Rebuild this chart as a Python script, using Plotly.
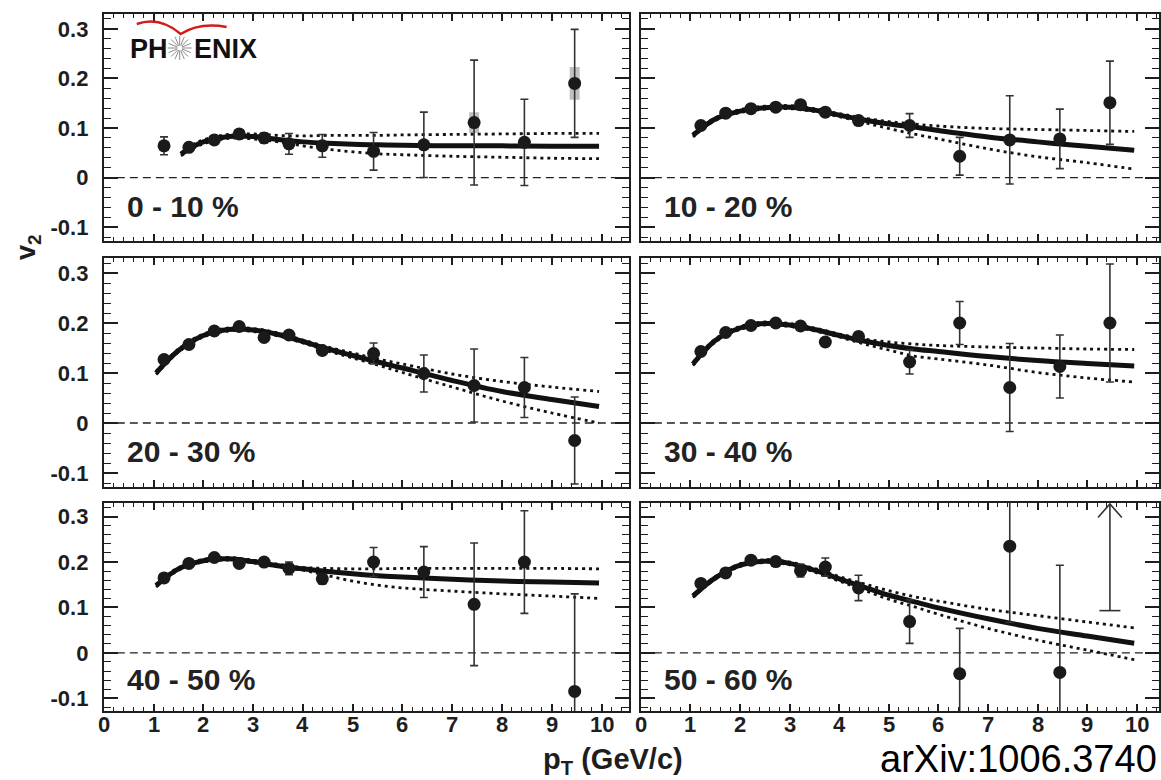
import math
import plotly.graph_objects as go

# ---------------- data ----------------
pt = [1.21, 1.71, 2.22, 2.72, 3.22, 3.72, 4.39, 5.42, 6.43, 7.44, 8.45, 9.46]

cent_labels = ["0 - 10 %", "10 - 20 %", "20 - 30 %", "30 - 40 %", "40 - 50 %", "50 - 60 %"]

v2_00_10 = [0.064, 0.061, 0.076, 0.088, 0.080, 0.068, 0.064, 0.053, 0.066, 0.111, 0.071, 0.190]
er_00_10 = [0.018, 0.008, 0.006, 0.007, 0.010, 0.021, 0.023, 0.038, 0.066, 0.126, 0.087, 0.109]
sy_00_10 = [0.010, 0.006, 0.008, 0.009, 0.009, 0.008, 0.007, 0.007, 0.008, 0.021, 0.010, 0.033]

v2_10_20 = [0.105, 0.130, 0.139, 0.142, 0.147, 0.132, 0.115, 0.105, 0.043, 0.076, 0.078, 0.151]
er_10_20 = [0.005, 0.005, 0.004, 0.004, 0.005, 0.006, 0.008, 0.024, 0.038, 0.089, 0.060, 0.084]

v2_20_30 = [0.127, 0.157, 0.184, 0.193, 0.171, 0.176, 0.145, 0.139, 0.099, 0.075, 0.071, -0.035]
er_20_30 = [0.005, 0.005, 0.004, 0.004, 0.006, 0.006, 0.008, 0.021, 0.037, 0.073, 0.060, 0.087]

v2_30_40 = [0.143, 0.181, 0.195, 0.200, 0.194, 0.162, 0.173, 0.122, 0.200, 0.071, 0.113, 0.200]
er_30_40 = [0.005, 0.005, 0.004, 0.004, 0.005, 0.006, 0.009, 0.024, 0.043, 0.088, 0.063, 0.118]

v2_40_50 = [0.165, 0.197, 0.210, 0.197, 0.200, 0.186, 0.163, 0.200, 0.178, 0.107, 0.200, -0.085]
er_40_50 = [0.006, 0.006, 0.005, 0.006, 0.006, 0.014, 0.011, 0.032, 0.056, 0.135, 0.113, 0.215]

v2_50_60 = [0.153, 0.176, 0.204, 0.201, 0.181, 0.189, 0.143, 0.069, -0.046, 0.235, -0.043, None]
er_50_60 = [0.006, 0.006, 0.005, 0.006, 0.014, 0.020, 0.028, 0.048, 0.100, 0.168, 0.236, None]
lim_pt_50_60 = 9.46      # off-scale point (arrow): pT and lower end
lim_low_50_60 = 0.093

# theory curves (solid = central, dotted = band)
th_x0 = [1.55, 1.8, 2.0, 2.5, 3.0, 3.5, 4.0, 4.5, 5.0, 5.5, 6.0, 7.0, 8.0, 9.0, 9.95]
th_x = [1.05, 1.5, 2.0, 2.5, 3.0, 3.5, 4.0, 4.5, 5.0, 5.5, 6.0, 7.0, 8.0, 9.0, 9.95]

th_c_00_10 = [0.047, 0.063, 0.072, 0.083, 0.083, 0.077, 0.072, 0.069, 0.067, 0.066, 0.065, 0.064, 0.064, 0.063, 0.063]
th_u_00_10 = [0.050, 0.067, 0.076, 0.087, 0.088, 0.085, 0.084, 0.085, 0.085, 0.085, 0.086, 0.087, 0.088, 0.089, 0.089]
th_l_00_10 = [0.044, 0.059, 0.068, 0.079, 0.078, 0.072, 0.064, 0.057, 0.052, 0.048, 0.046, 0.043, 0.041, 0.039, 0.038]

th_c_10_20 = [0.085, 0.118, 0.134, 0.141, 0.142, 0.136, 0.126, 0.116, 0.108, 0.102, 0.095, 0.082, 0.072, 0.063, 0.055]
th_u_10_20 = [0.088, 0.121, 0.137, 0.144, 0.145, 0.139, 0.129, 0.120, 0.113, 0.108, 0.104, 0.099, 0.097, 0.095, 0.093]
th_l_10_20 = [0.082, 0.115, 0.131, 0.138, 0.139, 0.133, 0.123, 0.111, 0.099, 0.088, 0.078, 0.058, 0.042, 0.030, 0.017]

th_c_20_30 = [0.100, 0.145, 0.175, 0.187, 0.186, 0.177, 0.163, 0.148, 0.135, 0.122, 0.110, 0.085, 0.063, 0.047, 0.033]
th_u_20_30 = [0.103, 0.148, 0.178, 0.190, 0.189, 0.180, 0.166, 0.152, 0.140, 0.128, 0.118, 0.098, 0.083, 0.072, 0.063]
th_l_20_30 = [0.097, 0.142, 0.172, 0.184, 0.183, 0.174, 0.160, 0.144, 0.130, 0.116, 0.101, 0.072, 0.044, 0.020, 0.000]

th_c_30_40 = [0.118, 0.165, 0.190, 0.199, 0.196, 0.187, 0.175, 0.164, 0.155, 0.148, 0.143, 0.133, 0.125, 0.119, 0.114]
th_u_30_40 = [0.121, 0.168, 0.193, 0.202, 0.199, 0.190, 0.178, 0.168, 0.162, 0.158, 0.155, 0.152, 0.150, 0.148, 0.147]
th_l_30_40 = [0.115, 0.162, 0.187, 0.196, 0.193, 0.184, 0.172, 0.158, 0.146, 0.134, 0.128, 0.116, 0.101, 0.090, 0.082]

th_c_40_50 = [0.148, 0.185, 0.203, 0.207, 0.201, 0.192, 0.185, 0.179, 0.174, 0.170, 0.167, 0.162, 0.158, 0.156, 0.154]
th_u_40_50 = [0.151, 0.188, 0.206, 0.210, 0.204, 0.195, 0.188, 0.186, 0.185, 0.185, 0.186, 0.186, 0.186, 0.186, 0.185]
th_l_40_50 = [0.145, 0.182, 0.200, 0.204, 0.198, 0.189, 0.182, 0.170, 0.158, 0.149, 0.143, 0.136, 0.130, 0.125, 0.120]

th_c_50_60 = [0.125, 0.165, 0.193, 0.202, 0.197, 0.182, 0.163, 0.145, 0.127, 0.113, 0.099, 0.075, 0.054, 0.037, 0.021]
th_u_50_60 = [0.128, 0.168, 0.196, 0.205, 0.200, 0.186, 0.168, 0.152, 0.137, 0.124, 0.114, 0.096, 0.082, 0.068, 0.055]
th_l_50_60 = [0.122, 0.162, 0.190, 0.199, 0.194, 0.178, 0.158, 0.138, 0.118, 0.102, 0.085, 0.054, 0.028, 0.006, -0.015]

y_tickvals = [-0.1, 0, 0.1, 0.2, 0.3]
y_ticktext = ["-0.1", "0", "0.1", "0.2", "0.3"]
x_tickvals = [0, 1, 2, 3, 4, 5, 6, 7, 8, 9, 10]
x_ticktext = ["0", "1", "2", "3", "4", "5", "6", "7", "8", "9", "10"]

panels = [
    (v2_00_10, er_00_10, th_x0, th_c_00_10, th_u_00_10, th_l_00_10),
    (v2_10_20, er_10_20, th_x, th_c_10_20, th_u_10_20, th_l_10_20),
    (v2_20_30, er_20_30, th_x, th_c_20_30, th_u_20_30, th_l_20_30),
    (v2_30_40, er_30_40, th_x, th_c_30_40, th_u_30_40, th_l_30_40),
    (v2_40_50, er_40_50, th_x, th_c_40_50, th_u_40_50, th_l_40_50),
    (v2_50_60, er_50_60, th_x, th_c_50_60, th_u_50_60, th_l_50_60),
]

# ---------------- layout geometry ----------------
W, H = 1161, 780
col_px = [(104, 630), (642, 1161)]
row_px = [(14, 241), (258, 487), (503, 711)]
x_ranges = [[0, 10.55], [0, 10.45]]
y_range = [-0.128, 0.33]
XLAB_Y_PX = 724          # vertical centre of the p_T tick labels

INK = "#1e1e1e"
FONT = "Liberation Sans, Arial, Helvetica, sans-serif"
TICKFONT = dict(family=FONT, size=22, color=INK, weight="bold")

fig = go.Figure()
layout = dict(
    width=W, height=H, margin=dict(l=0, r=0, t=0, b=0),
    paper_bgcolor="white", plot_bgcolor="white", showlegend=False,
)
shapes = []
annotations = []

for i, (v2, er, tx, tc, tu, tl) in enumerate(panels):
    r, c = divmod(i, 2)
    xa = "x" if i == 0 else f"x{i+1}"
    ya = "y" if i == 0 else f"y{i+1}"
    xkey = "xaxis" if i == 0 else f"xaxis{i+1}"
    ykey = "yaxis" if i == 0 else f"yaxis{i+1}"
    x0p, x1p = col_px[c]
    y0p, y1p = row_px[r]
    layout[xkey] = dict(
        domain=[x0p / W, x1p / W], range=x_ranges[c], anchor=ya,
        showgrid=False, zeroline=False, showline=True, linecolor=INK, linewidth=2,
        mirror="allticks", ticks="inside", ticklen=7, tickwidth=1.5, tickcolor=INK,
        tickmode="array", tickvals=x_tickvals, ticktext=x_ticktext,
        minor=dict(tickmode="linear", tick0=0, dtick=0.2, ticks="inside", ticklen=4,
                   tickwidth=1.2, tickcolor=INK, showgrid=False),
        showticklabels=False,
    )
    layout[ykey] = dict(
        domain=[1 - y1p / H, 1 - y0p / H], range=y_range, anchor=xa,
        showgrid=False, zeroline=False, showline=True, linecolor=INK, linewidth=2,
        mirror="allticks", ticks="inside", ticklen=14, tickwidth=1.5, tickcolor=INK,
        tickmode="array", tickvals=y_tickvals, ticktext=y_ticktext,
        minor=dict(tickmode="linear", tick0=0, dtick=0.02, ticks="inside", ticklen=7,
                   tickwidth=1.2, tickcolor=INK, showgrid=False),
        showticklabels=(c == 0), ticklabelstandoff=9,
        tickfont=TICKFONT,
    )

    # p_T tick labels of the bottom row, placed on the axis scale just under the frame
    if r == 2:
        for tv, tt in zip(x_tickvals, x_ticktext):
            annotations.append(dict(text=tt, xref=xa, yref="paper", x=tv, y=1 - XLAB_Y_PX / H,
                                    xanchor="center", yanchor="middle", showarrow=False,
                                    font=TICKFONT))

    # zero dashed line
    shapes.append(dict(type="line", xref=f"{xa} domain", yref=ya, x0=0, x1=1, y0=0, y1=0,
                       line=dict(color="#222", width=1.3, dash="8px,5px"), layer="below"))

    # systematic boxes (0-10 %)
    if i == 0:
        fig.add_trace(go.Bar(
            x=pt, y=[2 * s for s in sy_00_10], base=[v - s for v, s in zip(v2, sy_00_10)],
            width=0.2, marker=dict(color="rgba(140,140,140,0.55)", line=dict(width=0)),
            xaxis=xa, yaxis=ya, hoverinfo="skip"))

    # theory band + central curve
    for ys, dash, wd in ((tu, "3px,4px", 2.8), (tl, "3px,4px", 2.8), (tc, "solid", 5)):
        fig.add_trace(go.Scatter(
            x=tx, y=ys, mode="lines", line=dict(color="#111", width=wd, dash=dash, shape="spline"),
            xaxis=xa, yaxis=ya, hoverinfo="skip"))

    # data points
    fig.add_trace(go.Scatter(
        x=pt, y=v2, mode="markers",
        marker=dict(color="#1a1a1a", size=13, symbol="circle"),
        error_y=dict(type="data", array=er, visible=True, thickness=1.6, width=4, color="#333"),
        xaxis=xa, yaxis=ya))

    # centrality label
    annotations.append(dict(
        text=cent_labels[i], xref=xa, yref=ya, x=0.42, y=-0.058, xanchor="left", yanchor="middle",
        showarrow=False, font=dict(family=FONT, size=30, color="#222", weight="bold")))

    # off-scale point in 50-60 %: lower end cap + arrow up to the frame
    if i == 5:
        ytop = y_range[1] - 0.002
        fig.add_trace(go.Scatter(
            x=[lim_pt_50_60, lim_pt_50_60], y=[lim_low_50_60, ytop], mode="lines",
            line=dict(color="#333", width=1.6), xaxis=xa, yaxis=ya, hoverinfo="skip"))
        fig.add_trace(go.Scatter(
            x=[lim_pt_50_60], y=[lim_low_50_60], mode="markers",
            marker=dict(symbol="line-ew", size=15, line=dict(color="#333", width=1.6)),
            xaxis=xa, yaxis=ya, hoverinfo="skip"))
        fig.add_trace(go.Scatter(
            x=[lim_pt_50_60 - 0.24, lim_pt_50_60, lim_pt_50_60 + 0.24],
            y=[ytop - 0.03, ytop, ytop - 0.03], mode="lines",
            line=dict(color="#333", width=1.6), xaxis=xa, yaxis=ya, hoverinfo="skip"))

# axis titles
annotations.append(dict(text="v<sub>2</sub>", xref="paper", yref="paper", x=28 / W, y=1 - 247 / H,
                        textangle=-90, showarrow=False, xanchor="center", yanchor="middle",
                        font=dict(family=FONT, size=27, color=INK, weight="bold")))
annotations.append(dict(text="p<sub>T</sub> (GeV/c)", xref="paper", yref="paper", x=614 / W, y=1 - 761 / H,
                        showarrow=False, xanchor="center", yanchor="middle",
                        font=dict(family=FONT, size=29, color=INK, weight="bold")))
annotations.append(dict(text="arXiv:1006.3740", xref="paper", yref="paper", x=1161 / W, y=1 - 759 / H,
                        showarrow=False, xanchor="right", yanchor="middle",
                        font=dict(family=FONT, size=38, color="black")))

# PHENIX logo
annotations.append(dict(text="PH", xref="paper", yref="paper", x=128 / W, y=1 - 49 / H,
                        showarrow=False, xanchor="left", yanchor="middle",
                        font=dict(family=FONT, size=27, color="#111", weight="bold")))
annotations.append(dict(text="ENIX", xref="paper", yref="paper", x=192 / W, y=1 - 49 / H,
                        showarrow=False, xanchor="left", yanchor="middle",
                        font=dict(family=FONT, size=27, color="#111", weight="bold")))


def px_to_paper(xp, yp):
    return xp / W, 1 - yp / H


# sun-burst of the logo
cx, cy = 180, 48
for k in range(16):
    ang = 2 * math.pi * k / 16
    a = px_to_paper(cx + 2.5 * math.cos(ang), cy + 2.5 * math.sin(ang))
    b = px_to_paper(cx + 12 * math.cos(ang), cy + 12 * math.sin(ang))
    shapes.append(dict(type="line", xref="paper", yref="paper", x0=a[0], y0=a[1], x1=b[0], y1=b[1],
                       line=dict(color="#8c8c8c", width=1)))

# red swoosh of the logo
p0 = px_to_paper(137, 24)
p1 = px_to_paper(160, 16)
p2 = px_to_paper(181, 34)
p3 = px_to_paper(200, 22)
p4 = px_to_paper(227, 27)
shapes.append(dict(type="path", xref="paper", yref="paper",
                   path=f"M {p0[0]},{p0[1]} Q {p1[0]},{p1[1]} {p2[0]},{p2[1]} Q {p3[0]},{p3[1]} {p4[0]},{p4[1]}",
                   line=dict(color="#d41a1a", width=2.4)))

layout["shapes"] = shapes
layout["annotations"] = annotations
fig.update_layout(**layout)

fig.write_html("out.html")
